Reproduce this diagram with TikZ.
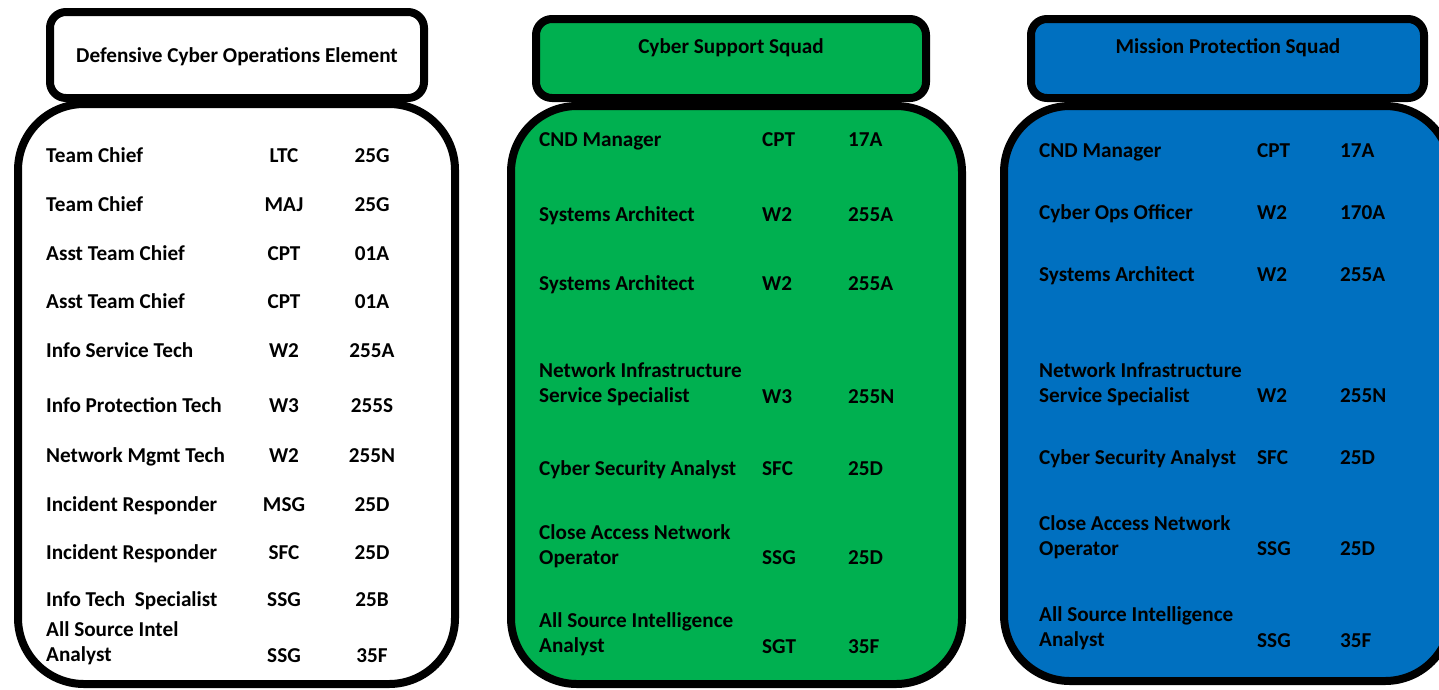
\documentclass[tikz,border=0pt]{standalone}
\usepackage{fontspec}
\setmainfont{Carlito}
\definecolor{sqgreen}{HTML}{00B050}
\definecolor{sqblue}{HTML}{0070C0}
\begin{document}
\begin{tikzpicture}[x=1pt,y=-1pt,
  panel/.style={draw=black, line width=8pt, rounded corners=66pt},
  head/.style={draw=black, line width=8pt, rounded corners=16pt},
  lbl/.style={font=\fontsize{21.2}{25}\selectfont\bfseries, inner sep=0pt, anchor=base west, align=left},
  clbl/.style={font=\fontsize{21.2}{25}\selectfont\bfseries, inner sep=0pt, anchor=base},
]
\useasboundingbox (0,0) rectangle (1439,689);
\clip (0,0) rectangle (1439,689);

% bodies
\draw[panel, fill=white] (18,104) rectangle (455,684);
\draw[panel, fill=sqgreen] (511,106) rectangle (962,684);
\draw[panel, fill=sqblue] (1004,106) rectangle (1451,681);
% headers
\draw[head, fill=white] (50,12) rectangle (424,98);
\draw[head, fill=sqgreen] (536,19) rectangle (926,98);
\draw[head, fill=sqblue] (1031,19) rectangle (1424,98);

\node[clbl] (h1) at (237,62) {Defensive Cyber Operations Element};
\node[clbl] (h2) at (731,53) {Cyber Support Squad};
\node[clbl] (h3) at (1228,53) {Mission Protection Squad};

% Panel 1
\node[lbl] (a1) at (46,162) {Team Chief};
\node[clbl] (a1r) at (284,162) {LTC};
\node[clbl] (a1m) at (372,162) {25G};
\node[lbl] (a2) at (46,211) {Team Chief};
\node[clbl] (a2r) at (284,211) {MAJ};
\node[clbl] (a2m) at (372,211) {25G};
\node[lbl] (a3) at (46,260) {Asst Team Chief};
\node[clbl] (a3r) at (284,260) {CPT};
\node[clbl] (a3m) at (372,260) {01A};
\node[lbl] (a4) at (46,308) {Asst Team Chief};
\node[clbl] (a4r) at (284,308) {CPT};
\node[clbl] (a4m) at (372,308) {01A};
\node[lbl] (a5) at (46,357) {Info Service Tech};
\node[clbl] (a5r) at (284,357) {W2};
\node[clbl] (a5m) at (372,357) {255A};
\node[lbl] (a6) at (46,412) {Info Protection Tech};
\node[clbl] (a6r) at (284,412) {W3};
\node[clbl] (a6m) at (372,412) {255S};
\node[lbl] (a7) at (46,462) {Network Mgmt Tech};
\node[clbl] (a7r) at (284,462) {W2};
\node[clbl] (a7m) at (372,462) {255N};
\node[lbl] (a8) at (46,511) {Incident Responder};
\node[clbl] (a8r) at (284,511) {MSG};
\node[clbl] (a8m) at (372,511) {25D};
\node[lbl] (a9) at (46,559) {Incident Responder};
\node[clbl] (a9r) at (284,559) {SFC};
\node[clbl] (a9m) at (372,559) {25D};
\node[lbl] (a10) at (46,606) {Info Tech~ Specialist};
\node[clbl] (a10r) at (284,606) {SSG};
\node[clbl] (a10m) at (372,606) {25B};
\node[lbl] (a11) at (46,661) {All Source Intel\\Analyst};
\node[clbl] (a11r) at (284,662) {SSG};
\node[clbl] (a11m) at (372,662) {35F};

% Panel 2
\node[lbl] (b1) at (539,146) {CND Manager};
\node[lbl] (b1r) at (762,146) {CPT};
\node[lbl] (b1m) at (848,146) {17A};
\node[lbl] (b2) at (539,221) {Systems Architect};
\node[lbl] (b2r) at (762,221) {W2};
\node[lbl] (b2m) at (848,221) {255A};
\node[lbl] (b3) at (539,290) {Systems Architect};
\node[lbl] (b3r) at (762,290) {W2};
\node[lbl] (b3m) at (848,290) {255A};
\node[lbl] (b4) at (539,402) {Network Infrastructure\\Service Specialist};
\node[lbl] (b4r) at (762,403) {W3};
\node[lbl] (b4m) at (848,403) {255N};
\node[lbl] (b5) at (539,475) {Cyber Security Analyst};
\node[lbl] (b5r) at (762,475) {SFC};
\node[lbl] (b5m) at (848,475) {25D};
\node[lbl] (b6) at (539,564) {Close Access Network\\Operator};
\node[lbl] (b6r) at (762,564) {SSG};
\node[lbl] (b6m) at (848,564) {25D};
\node[lbl] (b7) at (539,652) {All Source Intelligence\\Analyst};
\node[lbl] (b7r) at (762,653) {SGT};
\node[lbl] (b7m) at (848,653) {35F};

% Panel 3
\node[lbl] (c1) at (1039,157) {CND Manager};
\node[lbl] (c1r) at (1257,157) {CPT};
\node[lbl] (c1m) at (1340,157) {17A};
\node[lbl] (c2) at (1039,219) {Cyber Ops Officer};
\node[lbl] (c2r) at (1257,219) {W2};
\node[lbl] (c2m) at (1340,219) {170A};
\node[lbl] (c3) at (1039,281) {Systems Architect};
\node[lbl] (c3r) at (1257,281) {W2};
\node[lbl] (c3m) at (1340,281) {255A};
\node[lbl] (c4) at (1039,402) {Network Infrastructure\\Service Specialist};
\node[lbl] (c4r) at (1257,402) {W2};
\node[lbl] (c4m) at (1340,402) {255N};
\node[lbl] (c5) at (1039,464) {Cyber Security Analyst};
\node[lbl] (c5r) at (1257,464) {SFC};
\node[lbl] (c5m) at (1340,464) {25D};
\node[lbl] (c6) at (1039,555) {Close Access Network\\Operator};
\node[lbl] (c6r) at (1257,555) {SSG};
\node[lbl] (c6m) at (1340,555) {25D};
\node[lbl] (c7) at (1039,646) {All Source Intelligence\\Analyst};
\node[lbl] (c7r) at (1257,647) {SSG};
\node[lbl] (c7m) at (1340,647) {35F};
\end{tikzpicture}
\end{document}
